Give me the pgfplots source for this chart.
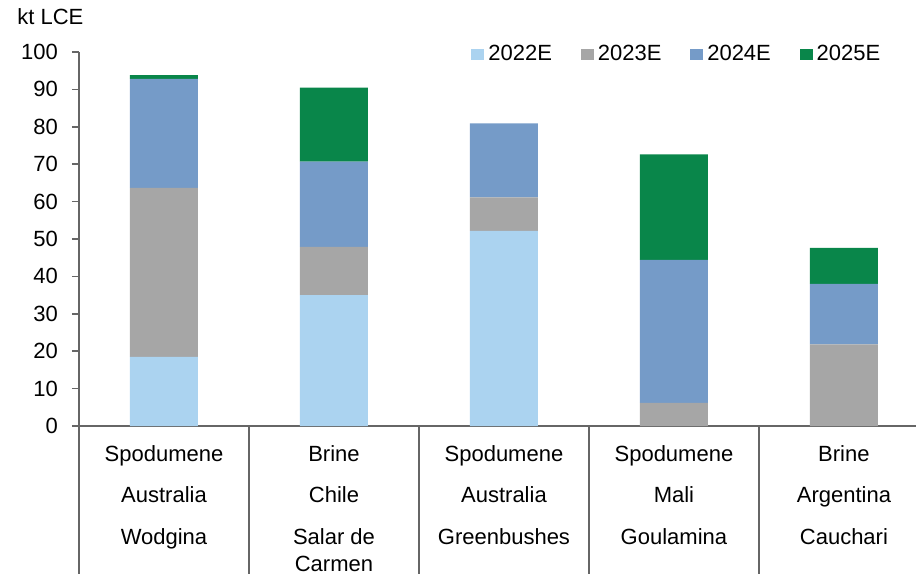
\documentclass[border=0pt]{standalone}
\usepackage{pgfplots}
\pgfplotsset{compat=1.18}
\usepackage{fontspec}
\setmainfont{Liberation Sans}
\definecolor{c22}{HTML}{ABD3F0}
\definecolor{c23}{HTML}{A6A6A6}
\definecolor{c24}{HTML}{759BC8}
\definecolor{c25}{HTML}{09864A}
\definecolor{axgray}{HTML}{666666}
\newcommand{\cf}{\fontsize{11}{13.5}\selectfont}
\begin{document}
\begin{tikzpicture}
\begin{axis}[
  scale only axis, width=418.5pt, height=187pt,
  ybar stacked, bar width=34pt,
  xmin=-0.5, xmax=4.424, ymin=0, ymax=100,
  axis lines=left,
  axis line style={-, draw=axgray, line width=0.8pt},
  ytick={0,10,...,100},
  ytick style={draw=axgray, line width=0.8pt},
  tick align=outside, major tick length=3.5pt,
  xtick={0,...,4}, xtick style={draw=none},
  xticklabels={
    {Spodumene\\[7.25pt]Australia\\[7.25pt]Wodgina},
    {Brine\\[7.25pt]Chile\\[7.25pt]Salar de\\Carmen},
    {Spodumene\\[7.25pt]Australia\\[7.25pt]Greenbushes},
    {Spodumene\\[7.25pt]Mali\\[7.25pt]Goulamina},
    {Brine\\[7.25pt]Argentina\\[7.25pt]Cauchari}},
  xticklabel style={align=center, anchor=north, yshift=-2.65pt},
  yticklabel style={xshift=-3.5pt},
  tick label style={font=\cf},
  /pgf/number format/assume math mode=true,
  clip=false,
  legend columns=4,
  legend style={draw=none, fill=none, font=\cf,
    at={(rel axis cs:0.472,1)}, anchor=west, xshift=-4.5pt, yshift=-1pt,
    /tikz/every even column/.append style={column sep=12.4pt}},
  legend image code/.code={\fill[#1] (0pt,-2.75pt) rectangle (6.5pt,2.75pt);},
]
\addplot[fill=c22, draw=none] coordinates {(0,18.5) (1,35.0) (2,52.2) (3,0) (4,0)};
\addplot[fill=c23, draw=none] coordinates {(0,45.2) (1,12.9) (2,8.9) (3,6.2) (4,21.8)};
\addplot[fill=c24, draw=none] coordinates {(0,29.1) (1,22.8) (2,19.8) (3,38.2) (4,16.2)};
\addplot[fill=c25, draw=none] coordinates {(0,1.0) (1,19.8) (2,0) (3,28.2) (4,9.6)};
\legend{2022E,2023E,2024E,2025E}
\draw[axgray, line width=0.8pt] (axis cs:-0.5,0) -- ([yshift=-74pt]axis cs:-0.5,0);
\draw[axgray, line width=0.8pt] (axis cs:0.5,0) -- ([yshift=-74pt]axis cs:0.5,0);
\draw[axgray, line width=0.8pt] (axis cs:1.5,0) -- ([yshift=-74pt]axis cs:1.5,0);
\draw[axgray, line width=0.8pt] (axis cs:2.5,0) -- ([yshift=-74pt]axis cs:2.5,0);
\draw[axgray, line width=0.8pt] (axis cs:3.5,0) -- ([yshift=-74pt]axis cs:3.5,0);
\end{axis}
\node[anchor=base west, font=\cf, inner sep=0pt] at (-31pt,200.5pt) {kt LCE};
\pgfresetboundingbox
\path[use as bounding box] (-39.5pt,-74pt) rectangle (418.5pt,213pt);
\end{tikzpicture}
\end{document}
